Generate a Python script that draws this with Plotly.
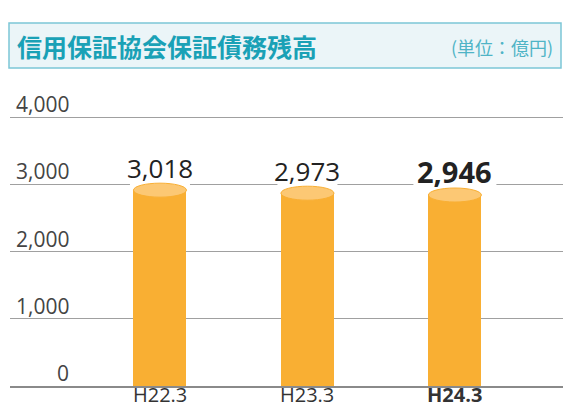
import plotly.graph_objects as go

categories = ["H22.3", "H23.3", "H24.3"]
values = [3018, 2973, 2946]
value_labels = ["3,018", "2,973", "2,946"]
highlight = [False, False, True]
ytick_vals = [0, 1000, 2000, 3000, 4000]
ytick_text = ["0", "1,000", "2,000", "3,000", "4,000"]
title_text = "信用保証協会保証債務残高"
unit_text = "(単位：億円)"

W, H = 563, 405
ML, MR, MT, MB = 10, 0, 97, 19
YMAX = 4300
plot_h = H - MT - MB
plot_w = W - ML - MR
XMIN, XMAX = -1.017, 2.733
px_per_x = plot_w / (XMAX - XMIN)
cap = YMAX * 14 / plot_h  # ellipse height in data units (14 px)
bw = 53 / px_per_x

ORANGE = "#F9AF33"
CAP = "#FCC874"
FONT = "Open Sans, Noto Sans, sans-serif"

xs = list(range(len(categories)))

fig = go.Figure()
fig.add_trace(go.Bar(
    x=xs, y=[v - cap / 2 for v in values], width=bw,
    marker=dict(color=ORANGE, line=dict(width=0)),
    hoverinfo="skip", showlegend=False,
))

shapes = []
annotations = []
for i, (v, lab, hl) in enumerate(zip(values, value_labels, highlight)):
    shapes.append(dict(type="circle", xref="x", yref="y", layer="above",
                       x0=i - bw / 2, x1=i + bw / 2, y0=v - cap, y1=v,
                       fillcolor=CAP, line=dict(color=ORANGE, width=1)))
    hw = (83 if hl else 60) / 2 / px_per_x
    shapes.append(dict(type="rect", xref="x", yref="y", layer="between",
                       x0=i - hw, x1=i + hw, ysizemode="pixel", yanchor=v,
                       y0=-6, y1=30, fillcolor="white", line=dict(width=0)))
    annotations.append(dict(
        x=i, y=v, xref="x", yref="y", xanchor="center", yanchor="bottom",
        yshift=-5, showarrow=False,
        text=f"<b>{lab}</b>" if hl else lab,
        font=dict(family=FONT, size=29 if hl else 26, color="#222")))
    annotations.append(dict(
        x=i, y=0, xref="x", yref="y", xanchor="center", yanchor="top",
        yshift=7, showarrow=False,
        text=f"<b>{categories[i]}</b>" if hl else categories[i],
        font=dict(family=FONT, size=20, color="#333")))

for tv, tt in zip(ytick_vals, ytick_text):
    annotations.append(dict(
        x=(71 - ML) / plot_w, y=tv, xref="paper", yref="y",
        xanchor="right", yanchor="bottom", yshift=-3, showarrow=False,
        text=tt, font=dict(family=FONT, size=21, color="#444")))

def px_to_paper_y(p):
    return (H - MB - p) / plot_h

def px_to_paper_x(p):
    return (p - ML) / plot_w

shapes.append(dict(type="rect", xref="paper", yref="paper", layer="above",
                   x0=px_to_paper_x(9), x1=px_to_paper_x(561),
                   y0=px_to_paper_y(68), y1=px_to_paper_y(23),
                   fillcolor="#EBF5F8", line=dict(color="#7CC6D6", width=1.5)))
annotations.append(dict(
    x=px_to_paper_x(15), y=px_to_paper_y(46), xref="paper", yref="paper",
    xanchor="left", yanchor="middle", showarrow=False,
    text=f"<b>{title_text}</b>",
    font=dict(family="Noto Sans CJK JP", size=25, color="#1AA1B6")))
annotations.append(dict(
    x=px_to_paper_x(555), y=px_to_paper_y(47), xref="paper", yref="paper",
    xanchor="right", yanchor="middle", showarrow=False,
    text=unit_text,
    font=dict(family="Noto Sans CJK JP", size=18, color="#4FB4C6")))

fig.update_layout(
    width=W, height=H,
    margin=dict(l=ML, r=MR, t=MT, b=MB, autoexpand=False),
    paper_bgcolor="white", plot_bgcolor="white",
    shapes=shapes, annotations=annotations,
    xaxis=dict(range=[XMIN, XMAX], tickvals=xs, automargin=False,
               showticklabels=False,
               showgrid=False, zeroline=False, showline=True,
               linecolor="#8a8a8a", linewidth=2, ticks="",
               fixedrange=True),
    yaxis=dict(range=[0, YMAX], tickvals=ytick_vals, showticklabels=False,
               automargin=False,
               showgrid=True, gridcolor="#a0a0a0", gridwidth=1,
               zeroline=False, showline=False, ticks="", fixedrange=True),
    bargap=0,
)

fig.write_html("out.html", config={"displayModeBar": False},
               post_script="document.body.style.margin='0';")
